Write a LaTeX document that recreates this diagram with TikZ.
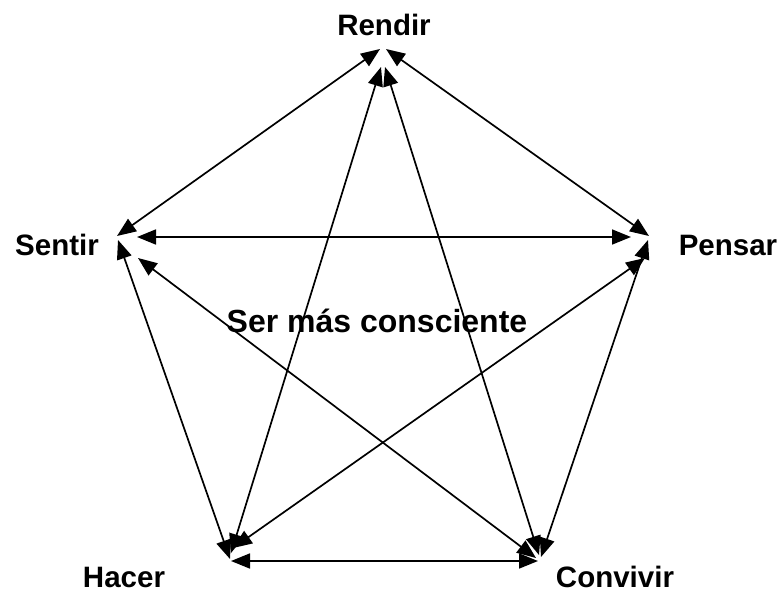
\documentclass[tikz,border=0pt]{standalone}
\usepackage{fontspec}
\setmainfont{Liberation Sans}
\usetikzlibrary{arrows.meta}
\begin{document}
\begin{tikzpicture}[x=1pt,y=-1pt,
  link/.style={{Triangle[length=19pt,width=15pt]}-{Triangle[length=19pt,width=15pt]}, line width=1.7pt},
  lbl/.style={font=\fontsize{29.5}{34}\selectfont\bfseries, inner sep=0pt, anchor=base},
  ctr/.style={font=\fontsize{32}{36}\selectfont\bfseries, inner sep=0pt, anchor=base}]
\useasboundingbox (0,0) rectangle (782,592);
% labels
\node[lbl] (rendir) at (384,35) {Rendir};
\node[lbl] (sentir) at (57,255) {Sentir};
\node[lbl] (pensar) at (728,255) {Pensar};
\node[lbl] (hacer) at (124,587) {Hacer};
\node[lbl] (convivir) at (615,587) {Convivir};
\node[ctr] (centro) at (377,332) {Ser más consciente};
% endpoints
\coordinate (RS) at (380,49);  \coordinate (SR) at (117,236);
\coordinate (RP) at (386,49);  \coordinate (PR) at (649,236);
\coordinate (SP) at (137,237); \coordinate (PS) at (631,237);
\coordinate (SH) at (118,240); \coordinate (HS) at (230,559);
\coordinate (PC) at (648,240); \coordinate (CP) at (541,557);
\coordinate (HC) at (231,561); \coordinate (CH) at (538,561);
\coordinate (RH) at (381,67);  \coordinate (HR) at (231,553);
\coordinate (RC) at (385,67);  \coordinate (CR) at (539,555);
\coordinate (SC) at (138,258); \coordinate (CS) at (536,558);
\coordinate (PH) at (645,258); \coordinate (HP) at (233,548);
% connectors
\draw[link] (RS) -- (SR);
\draw[link] (RP) -- (PR);
\draw[link] (SP) -- (PS);
\draw[link] (SH) -- (HS);
\draw[link] (PC) -- (CP);
\draw[link] (HC) -- (CH);
\draw[link] (RH) -- (HR);
\draw[link] (RC) -- (CR);
\draw[link] (SC) -- (CS);
\draw[link] (PH) -- (HP);
\end{tikzpicture}
\end{document}
